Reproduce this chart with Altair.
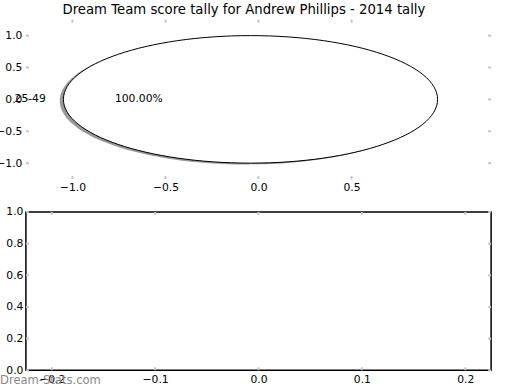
import altair as alt
import pandas as pd

# ---- data ----
categories = ["25-49"]
values = [100.0]
pie_center = [-0.043, 0.0]
pie_radius = 1.0
shadow_offset = [-0.02, -0.02]

top_xticks = [-1.0, -0.5, 0.0, 0.5]
top_yticks = [-1.0, -0.5, 0.0, 0.5, 1.0]
bot_xticks = [-0.2, -0.1, 0.0, 0.1, 0.2]
bot_yticks = [0.0, 0.2, 0.4, 0.6, 0.8, 1.0]

title_text = "Dream Team score tally for Andrew Phillips - 2014 tally"
watermark = "Dream-Stats.com"

# ---- layout ----
W = 467
H_TOP = 160
H_BOT = 159
TOP_XDOM = [-1.25, 1.25]
TOP_YDOM = [-1.25, 1.25]
BOT_XDOM = [-0.225, 0.225]
BOT_YDOM = [0.0, 1.0]
TICK_COLOR = "#c4c4c4"
TICK_LEN = 3
TICK_W = 2
FS = 10.8

px_per_x = W / (TOP_XDOM[1] - TOP_XDOM[0])
px_per_y = H_TOP / (TOP_YDOM[1] - TOP_YDOM[0])
ell_w = 2 * pie_radius * px_per_x + 2
ell_h = 2 * pie_radius * px_per_y
ry_norm = ell_h / ell_w
ellipse_path = f"M-1,0A1,{ry_norm:.4f},0,1,0,1,0A1,{ry_norm:.4f},0,1,0,-1,0Z"
ell_size = ell_w ** 2

total = sum(values)
pie_df = pd.DataFrame({
    "cat": categories,
    "value": values,
    "x": [pie_center[0]] * len(categories),
    "y": [pie_center[1]] * len(categories),
})
shadow_df = pd.DataFrame({
    "x": [pie_center[0] + shadow_offset[0]],
    "y": [pie_center[1] + shadow_offset[1]],
})
pct_df = pd.DataFrame({
    "x": [pie_center[0] - 0.6 * pie_radius],
    "y": [pie_center[1]],
    "t": [f"{v / total * 100:.2f}%" for v in values],
})
lab_df = pd.DataFrame({
    "x": [pie_center[0] - 1.1 * pie_radius],
    "y": [pie_center[1]],
    "t": categories,
})

ax_common = dict(ticks=False, domain=False, grid=False, labelFontSize=FS,
                 labelColor="black", title=None, format=".1f", labelFlush=False,
                 labelOverlap=False, labelBound=False)

txs = dict(scale=alt.Scale(domain=TOP_XDOM, nice=False, zero=False),
           axis=alt.Axis(values=top_xticks, labelPadding=2, **ax_common), title=None)
tys = dict(scale=alt.Scale(domain=TOP_YDOM, nice=False, zero=False),
           axis=alt.Axis(values=top_yticks, labelPadding=4, **ax_common), title=None)
bxs = dict(scale=alt.Scale(domain=BOT_XDOM, nice=False, zero=False),
           axis=alt.Axis(values=bot_xticks, labelPadding=3, **ax_common), title=None)
bys = dict(scale=alt.Scale(domain=BOT_YDOM, nice=False, zero=False),
           axis=alt.Axis(values=bot_yticks, labelPadding=3, **ax_common), title=None)


def tick_layers(xticks, yticks, xs, ys, h):
    xdf = pd.DataFrame({"x": xticks})
    ydf = pd.DataFrame({"y": yticks})
    rule = dict(color=TICK_COLOR, strokeWidth=TICK_W)
    return [
        alt.Chart(ydf).mark_rule(**rule).encode(
            y=alt.Y("y:Q", **ys), x=alt.value(0), x2=alt.value(TICK_LEN)),
        alt.Chart(ydf).mark_rule(**rule).encode(
            y=alt.Y("y:Q", **ys), x=alt.value(W - TICK_LEN), x2=alt.value(W)),
        alt.Chart(xdf).mark_rule(**rule).encode(
            x=alt.X("x:Q", **xs), y=alt.value(0), y2=alt.value(TICK_LEN)),
        alt.Chart(xdf).mark_rule(**rule).encode(
            x=alt.X("x:Q", **xs), y=alt.value(h - TICK_LEN), y2=alt.value(h)),
    ]


# ---- top panel (pie) ----
shadow = alt.Chart(shadow_df).mark_point(
    shape=ellipse_path, size=ell_size, filled=True, fill="#999999",
    fillOpacity=1, opacity=1, strokeWidth=0).encode(
    x=alt.X("x:Q", **txs), y=alt.Y("y:Q", **tys))
pie = alt.Chart(pie_df).mark_point(
    shape=ellipse_path, size=ell_size, filled=True, fill="white",
    fillOpacity=1, opacity=1, stroke="black", strokeWidth=1).encode(
    x=alt.X("x:Q", **txs), y=alt.Y("y:Q", **tys))
pct = alt.Chart(pct_df).mark_text(fontSize=FS, align="center", baseline="middle",
                                  color="black").encode(
    x=alt.X("x:Q", **txs), y=alt.Y("y:Q", **tys), text="t:N")
lab = alt.Chart(lab_df).mark_text(fontSize=FS, align="right", baseline="middle",
                                  color="black").encode(
    x=alt.X("x:Q", **txs), y=alt.Y("y:Q", **tys), text="t:N")

top = alt.layer(
    *tick_layers(top_xticks, top_yticks, txs, tys, H_TOP),
    shadow, pie, pct, lab,
).properties(width=W, height=H_TOP, view=alt.ViewBackground(stroke="transparent"))

# ---- bottom panel (empty axes) ----
wm = alt.Chart(pd.DataFrame({"t": [watermark]})).mark_text(
    fontSize=11.6, align="left", baseline="middle", color="#888888",
    fontWeight="normal").encode(
    x=alt.value(-26), y=alt.value(H_BOT + 11), text="t:N")

bottom = alt.layer(
    *tick_layers(bot_xticks, bot_yticks, bxs, bys, H_BOT), wm,
).properties(width=W, height=H_BOT,
             view=alt.ViewBackground(stroke="black", strokeWidth=1.5))

chart = alt.vconcat(top, bottom, spacing=33, bounds="flush").properties(
    title=alt.TitleParams(title_text, fontSize=13.3, fontWeight="normal", color="black",
                          anchor="middle", offset=2),
    padding={"left": -5, "top": 1, "right": 27, "bottom": 2},
).configure(font="DejaVu Sans").configure_view(strokeWidth=1.5)

chart.save("out.html", embed_options={"renderer": "svg", "actions": False})
